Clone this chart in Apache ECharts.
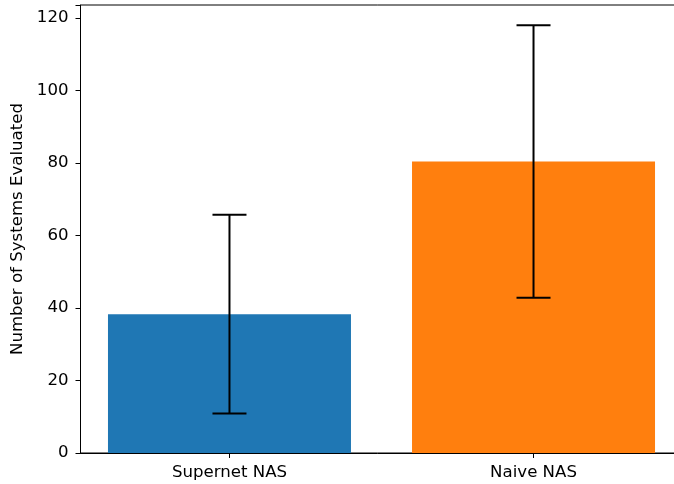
<!DOCTYPE html>
<html>
<head>
<meta charset="utf-8">
<script src="https://cdn.jsdelivr.net/npm/echarts@6/dist/echarts.min.js"></script>
<style>html,body{margin:0;padding:0;background:#fff}#c{width:674px;height:484px}</style>
</head>
<body>
<div id="c"></div>
<script>
const categories = ['Supernet NAS', 'Naive NAS'];
const means = [38.3, 80.4];
const errLow = [10.9, 42.8];
const errHigh = [65.7, 118.0];
const colors = ['#1f77b4', '#ff7f0e'];
const yTicks = [0, 20, 40, 60, 80, 100, 120];

const chart = echarts.init(document.getElementById('c'), null, {renderer: 'canvas'});
const font = '"DejaVu Sans"';
const fs = 16.6;
const catIdx = categories.map((c, i) => i);
chart.setOption({
  animation: false,
  grid: {left: 80.5, width: 602, top: 5, bottom: 31, outerBoundsMode: 'none', containLabel: false,
    show: true, borderColor: '#000', borderWidth: 1, backgroundColor: 'transparent'},
  xAxis: {
    type: 'value', min: -0.49, max: 1.49,
    splitLine: {show: false},
    axisLine: {onZero: false, lineStyle: {color: '#000', width: 1}},
    axisTick: {show: true, customValues: catIdx, length: 5, lineStyle: {color: '#000'}},
    axisLabel: {color: '#000', fontFamily: font, fontSize: fs, margin: 11, customValues: catIdx,
      formatter: v => categories[Math.round(v)]}
  },
  yAxis: {
    type: 'value', min: 0, max: 123.6, interval: 20,
    name: 'Number of Systems Evaluated', nameLocation: 'middle', nameGap: 51,
    nameTextStyle: {color: '#000', fontFamily: font, fontSize: fs},
    axisLine: {show: true, onZero: false, lineStyle: {color: '#000', width: 1}},
    axisTick: {show: true, length: 5, lineStyle: {color: '#000'}},
    splitLine: {show: false},
    axisLabel: {color: '#000', fontFamily: font, fontSize: fs, margin: 12,
      formatter: v => yTicks.includes(v) ? String(v) : ''}
  },
  series: [
    {
      type: 'bar', barWidth: 243,
      data: means.map((v, i) => ({value: [i, v], itemStyle: {color: colors[i]}}))
    },
    {
      type: 'custom',
      data: categories.map((c, i) => [i, errLow[i], errHigh[i]]),
      renderItem: function (params, api) {
        const lo = api.coord([api.value(0), api.value(1)]);
        const hi = api.coord([api.value(0), api.value(2)]);
        const hw = 17;
        const style = {stroke: '#000', lineWidth: 2};
        return {
          type: 'group',
          children: [
            {type: 'line', shape: {x1: lo[0], y1: lo[1], x2: hi[0], y2: hi[1]}, style},
            {type: 'line', shape: {x1: lo[0] - hw, y1: lo[1], x2: lo[0] + hw, y2: lo[1]}, style},
            {type: 'line', shape: {x1: hi[0] - hw, y1: hi[1], x2: hi[0] + hw, y2: hi[1]}, style}
          ]
        };
      },
      z: 10
    }
  ]
});
</script>
</body>
</html>
